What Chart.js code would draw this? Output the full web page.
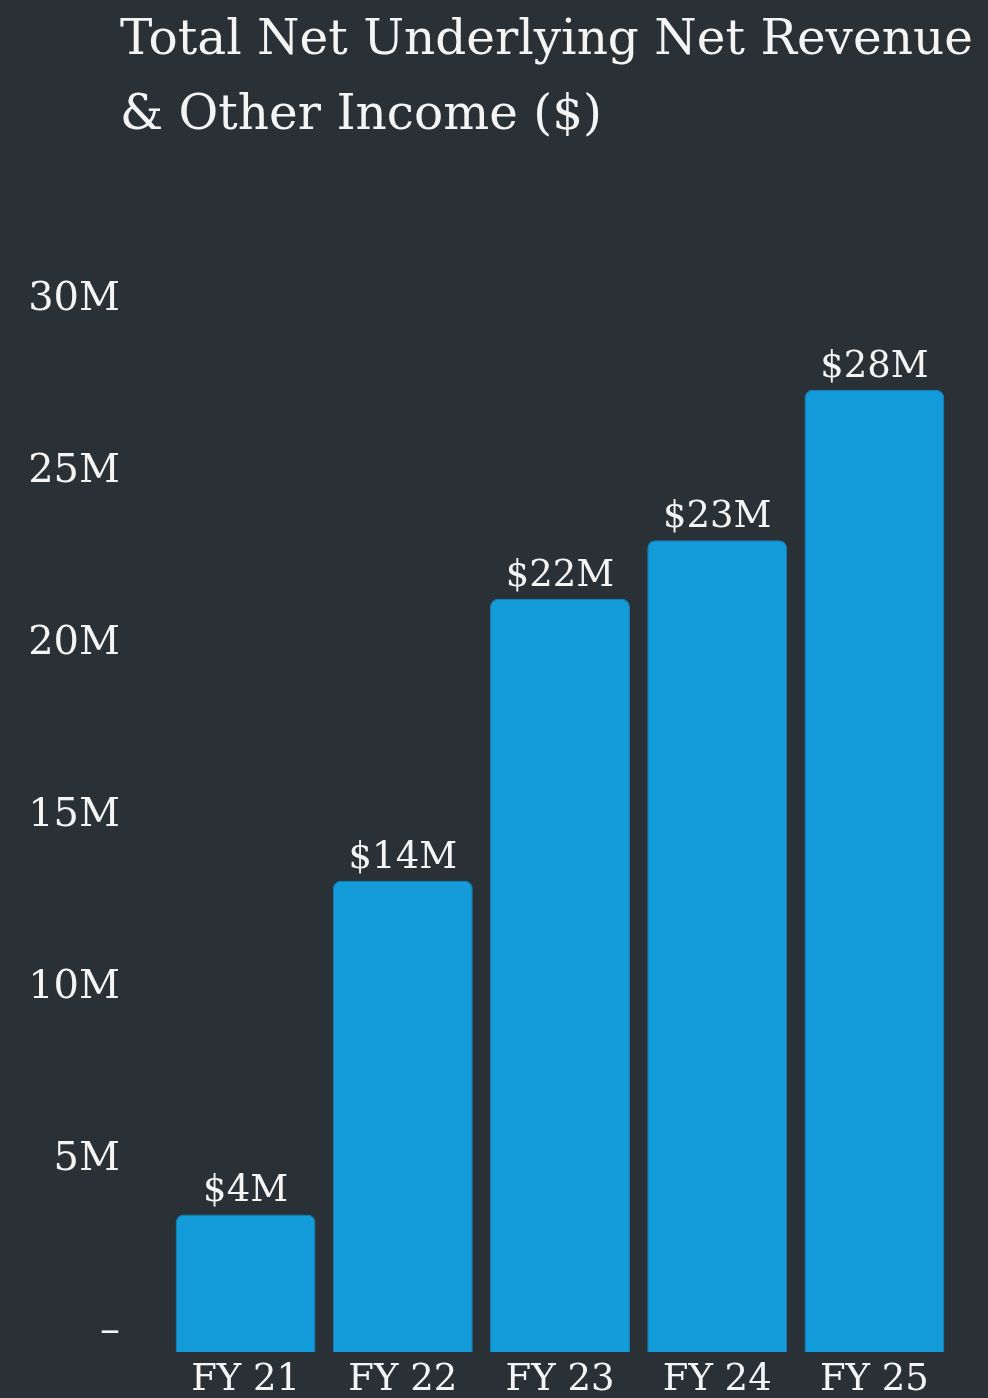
<!DOCTYPE html>
<html>
<head>
<meta charset="utf-8">
<script src="https://cdn.jsdelivr.net/npm/chart.js@4"></script>
<style>
  html, body { margin: 0; padding: 0; background: #293036; }
  .wrap { position: relative; width: 988px; height: 1398px; }
  #title {
    position: absolute; left: 120px; top: 0px; margin: 0;
    font-family: 'DejaVu Serif', serif; font-weight: normal;
    font-size: 48.5px; line-height: 75px; color: #f4f4f4;
  }
  canvas { position: absolute; left: 0; top: 0; }
</style>
</head>
<body>
<div class="wrap">
  <h1 id="title">Total Net Underlying Net Revenue<br>&amp; Other Income ($)</h1>
  <canvas id="revenueChart" width="988" height="1398"></canvas>
</div>
<script>
// data (millions)
const years = ['FY 21', 'FY 22', 'FY 23', 'FY 24', 'FY 25'];
const revenue = [4.0, 13.7, 21.9, 23.6, 27.97];
const valueLabels = ['$4M', '$14M', '$22M', '$23M', '$28M'];
const yTicks = [0, 5, 10, 15, 20, 25, 30];

const tickFont = { family: 'DejaVu Serif', size: 40 };
const labelFont = { family: 'DejaVu Serif', size: 37 };

// draws the value above each bar
const barLabels = {
  id: 'barLabels',
  afterDatasetsDraw(chart) {
    const ctx = chart.ctx;
    const meta = chart.getDatasetMeta(0);
    ctx.save();
    ctx.fillStyle = '#f4f4f4';
    ctx.font = `${labelFont.size}px ${labelFont.family}`;
    ctx.textAlign = 'center';
    ctx.textBaseline = 'alphabetic';
    meta.data.forEach((bar, i) => {
      ctx.fillText(valueLabels[i], bar.x, bar.y - 13);
    });
    ctx.restore();
  },
};

const ctx = document.getElementById('revenueChart').getContext('2d');
const revenueChart = new Chart(ctx, {
  type: 'bar',
  data: {
    labels: years,
    datasets: [
      {
        data: revenue,
        backgroundColor: '#149bd9',
        borderColor: '#1388c2',
        borderWidth: 1,
        borderRadius: { topLeft: 8, topRight: 8 },
        borderSkipped: 'bottom',
        barPercentage: 0.89,
        categoryPercentage: 1,
      },
    ],
  },
  options: {
    responsive: false,
    animation: false,
    layout: { padding: { top: 320, right: 35, left: 0, bottom: 0 } },
    plugins: {
      legend: { display: false },
      tooltip: { enabled: false },
    },
    scales: {
      x: {
        grid: { display: false },
        border: { display: false },
        ticks: { color: '#f4f4f4', font: labelFont, padding: -2, maxRotation: 0 },
        afterFit: (s) => { s.height = 46; },
      },
      y: {
        min: 0,
        max: 30,
        grid: { display: false },
        border: { display: false },
        afterBuildTicks: (s) => { s.ticks = yTicks.map((v) => ({ value: v })); },
        ticks: {
          color: '#f4f4f4',
          font: tickFont,
          padding: 39,
          labelOffset: -20,
          callback: (v) => (v === 0 ? '–' : v + 'M'),
        },
        afterFit: (s) => {
          s.width = 167;
          s.paddingTop = 0;
          s.paddingBottom = 0;
        },
      },
    },
  },
  plugins: [barLabels],
});
</script>
</body>
</html>
